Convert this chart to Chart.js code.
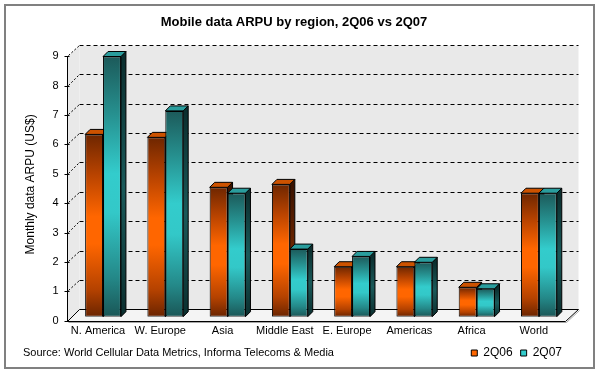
<!DOCTYPE html>
<html><head><meta charset="utf-8">
<script src="https://cdn.jsdelivr.net/npm/chart.js@4/dist/chart.umd.min.js"></script>
<style>html,body{margin:0;padding:0;background:#fff}</style>
</head><body>
<canvas id="c" width="600" height="374"></canvas>
<script>
// ---- data ----
const categories = ['N. America','W. Europe','Asia','Middle East','E. Europe','Americas','Africa','World'];
const seriesNames = ['2Q06','2Q07'];
const values2Q06 = [6.2, 6.1, 4.4, 4.5, 1.7, 1.7, 1.0, 4.2];
const values2Q07 = [8.85, 7.0, 4.2, 2.3, 2.05, 1.85, 0.95, 4.2];
const yMin = 0, yMax = 9, yStep = 1;
const titleText = 'Mobile data ARPU by region, 2Q06 vs 2Q07';
const yTitleText = 'Monthly data ARPU (US$)';
const sourceText = 'Source: World Cellular Data Metrics, Informa Telecoms & Media';

// ---- style ----
const FONT = "'Liberation Sans', Arial, sans-serif";
const FR = {dx:-5, dy:4};     // front plane relative to bar plane
const BK = {dx:7.5, dy:-7.4}; // back wall relative to bar plane
const EX = {dx:5, dy:-5};     // bar depth
const styles = [
  {solid:'#ff6600', top:'#cc5200',
   front:[[0,'#6e2600'],[0.22,'#b84300'],[0.45,'#ff6600'],[0.6,'#ff6600'],[0.85,'#b54200'],[1,'#6a2400']],
   side:[[0,'#3a1200'],[0.5,'#6e2600'],[1,'#3a1200']]},
  {solid:'#33cccc', top:'#2a9d9d',
   front:[[0,'#1c5a5a'],[0.22,'#26908f'],[0.45,'#33cccc'],[0.6,'#33c8c8'],[0.85,'#248888'],[1,'#1a5656']],
   side:[[0,'#0b2e2e'],[0.5,'#1a5a5a'],[1,'#0b2e2e']]}
];
Chart.defaults.font.family = FONT;
Chart.defaults.color = '#000';

function gradFn(st){
  return (ctx) => {
    const c = ctx.chart;
    if (ctx.type !== 'data' || !c.chartArea || !ctx.parsed) return st.solid;
    const ys = c.scales.y;
    const top = ys.getPixelForValue(ctx.parsed.y), bot = ys.getPixelForValue(0);
    if (!isFinite(top) || Math.abs(bot - top) < 1) return st.solid;
    const g = c.ctx.createLinearGradient(0, top, 0, bot);
    st.front.forEach(([o, col]) => g.addColorStop(o, col));
    return g;
  };
}
const px = v => Math.round(v) + 0.5;

const threeD = {
  id: 'threeD',
  beforeDraw(chart){
    const ctx = chart.ctx;
    ctx.save();
    ctx.fillStyle = '#fff';
    ctx.fillRect(0,0,chart.width,chart.height);
    ctx.strokeStyle = '#808080';
    ctx.lineWidth = 2;
    ctx.strokeRect(5,5,589,363);
    ctx.restore();
  },
  beforeDatasetsDraw(chart){
    const ctx = chart.ctx, yS = chart.scales.y, ca = chart.chartArea;
    const L = ca.left, R = ca.right;
    const y0 = yS.getPixelForValue(yMin), yT = yS.getPixelForValue(yMax);
    const fL = px(L+FR.dx), fR = px(R+FR.dx), bL = px(L+BK.dx), bR = px(R+BK.dx);
    const fy0 = px(y0+FR.dy), by0 = px(y0+BK.dy), fyT = px(yT+FR.dy), byT = px(yT+BK.dy);
    ctx.save();
    // back wall
    ctx.fillStyle = '#e9e9e9';
    ctx.beginPath();
    ctx.moveTo(bL, byT); ctx.lineTo(bR, byT); ctx.lineTo(bR, by0); ctx.lineTo(bL, by0); ctx.closePath(); ctx.fill();
    // side wall
    ctx.beginPath();
    ctx.moveTo(fL, fyT); ctx.lineTo(bL, byT); ctx.lineTo(bL, by0); ctx.lineTo(fL, fy0); ctx.closePath(); ctx.fill();
    // floor
    ctx.fillStyle = '#f4f4f4';
    ctx.beginPath();
    ctx.moveTo(fL, fy0); ctx.lineTo(fR, fy0); ctx.lineTo(bR, by0); ctx.lineTo(bL, by0); ctx.closePath(); ctx.fill();
    ctx.strokeStyle = '#000'; ctx.lineWidth = 1;
    ctx.stroke();
    // floor shadow
    ctx.strokeStyle = '#a8a8a8';
    ctx.beginPath(); ctx.moveTo(fL+1, fy0+1); ctx.lineTo(fR+1, fy0+1); ctx.lineTo(bR+1, by0+1); ctx.stroke();
    // gridlines
    ctx.strokeStyle = '#000'; ctx.lineWidth = 1;
    yS.ticks.forEach(t => {
      if (t.value <= yMin) return;
      const y = yS.getPixelForValue(t.value);
      const by = px(y+BK.dy), fy = px(y+FR.dy);
      ctx.setLineDash([4,3]);
      ctx.beginPath(); ctx.moveTo(bL, by); ctx.lineTo(bR, by); ctx.stroke();
      ctx.setLineDash([2,2]);
      ctx.beginPath(); ctx.moveTo(fL+1, fy-1); ctx.lineTo(bL, by); ctx.stroke();
    });
    ctx.setLineDash([]);
    // y axis line & ticks
    ctx.beginPath(); ctx.moveTo(fL, fyT); ctx.lineTo(fL, fy0); ctx.stroke();
    yS.ticks.forEach(t => {
      const y = px(yS.getPixelForValue(t.value)+FR.dy);
      ctx.beginPath(); ctx.moveTo(fL-3, y); ctx.lineTo(fL+2, y); ctx.stroke();
    });
    // bar extrusions (top + side faces)
    const metas = [chart.getDatasetMeta(0), chart.getDatasetMeta(1)];
    for (let i = 0; i < categories.length; i++) {
      metas.forEach((meta, di) => {
        const el = meta.data[i]; if (!el) return;
        const p = el.getProps(['x','y','base','width'], true);
        const l = p.x - p.width/2, r = p.x + p.width/2, top = p.y, base = p.base;
        const st = styles[di];
        const g = ctx.createLinearGradient(0, top, 0, base);
        st.side.forEach(([o,c]) => g.addColorStop(o,c));
        ctx.fillStyle = g;
        ctx.strokeStyle = '#000';
        ctx.beginPath();
        ctx.moveTo(r, top); ctx.lineTo(r+EX.dx, top+EX.dy); ctx.lineTo(r+EX.dx, base+EX.dy); ctx.lineTo(r, base);
        ctx.closePath(); ctx.fill(); ctx.stroke();
        ctx.fillStyle = st.top;
        ctx.beginPath();
        ctx.moveTo(l, top); ctx.lineTo(r, top); ctx.lineTo(r+EX.dx, top+EX.dy); ctx.lineTo(l+EX.dx, top+EX.dy);
        ctx.closePath(); ctx.fill(); ctx.stroke();
      });
    }
    ctx.restore();
  },
  afterDraw(chart){
    const ctx = chart.ctx;
    ctx.save();
    ctx.font = '11px ' + FONT;
    ctx.fillStyle = '#000';
    ctx.textBaseline = 'middle';
    ctx.textAlign = 'left';
    ctx.fillText(sourceText, 23, 353);
    ctx.restore();
  }
};

new Chart(document.getElementById('c'), {
  type: 'bar',
  data: {
    labels: categories,
    datasets: [
      {label: seriesNames[0], data: values2Q06, backgroundColor: gradFn(styles[0]), borderColor: '#000', borderWidth: 1, borderSkipped: false},
      {label: seriesNames[1], data: values2Q07, backgroundColor: gradFn(styles[1]), borderColor: '#000', borderWidth: 1, borderSkipped: false}
    ]
  },
  options: {
    responsive: false,
    animation: false,
    events: [],
    categoryPercentage: 0.575,
    barPercentage: 1,
    layout: {autoPadding: false, padding: {left: 18, right: 30, top: 0, bottom: 5}},
    plugins: {
      title: {display: true, text: titleText, color: '#000', font: {size: 13, weight: 'bold'}, padding: {top: 14.7, bottom: 21.8}},
      legend: {display: true, position: 'bottom', align: 'end',
        labels: {boxWidth: 6, boxHeight: 6, padding: 8, font: {size: 12}, color: '#000',
          generateLabels: (chart) => chart.data.datasets.map((ds, i) => ({
            text: ds.label, fillStyle: styles[i].solid, strokeStyle: '#000', lineWidth: 1,
            hidden: false, datasetIndex: i, fontColor: '#000'
          }))
        }},
      tooltip: {enabled: false}
    },
    scales: {
      x: {
        grid: {display: false, drawTicks: false},
        border: {display: false},
        ticks: {font: {size: 11}, padding: 8, labelOffset: FR.dx, maxRotation: 0, autoSkip: false},
        afterFit(s){ s.height = 22.3; }
      },
      y: {
        min: yMin, max: yMax,
        grid: {display: false, drawTicks: false},
        border: {display: false},
        ticks: {stepSize: yStep, font: {size: 11}, padding: 13.4, labelOffset: FR.dy},
        title: {display: true, text: yTitleText, font: {size: 12}, padding: {top: 5.8, bottom: 0}},
        afterFit(s){ s.width = 53.9; }
      }
    }
  },
  plugins: [threeD]
});
</script>
</body></html>
